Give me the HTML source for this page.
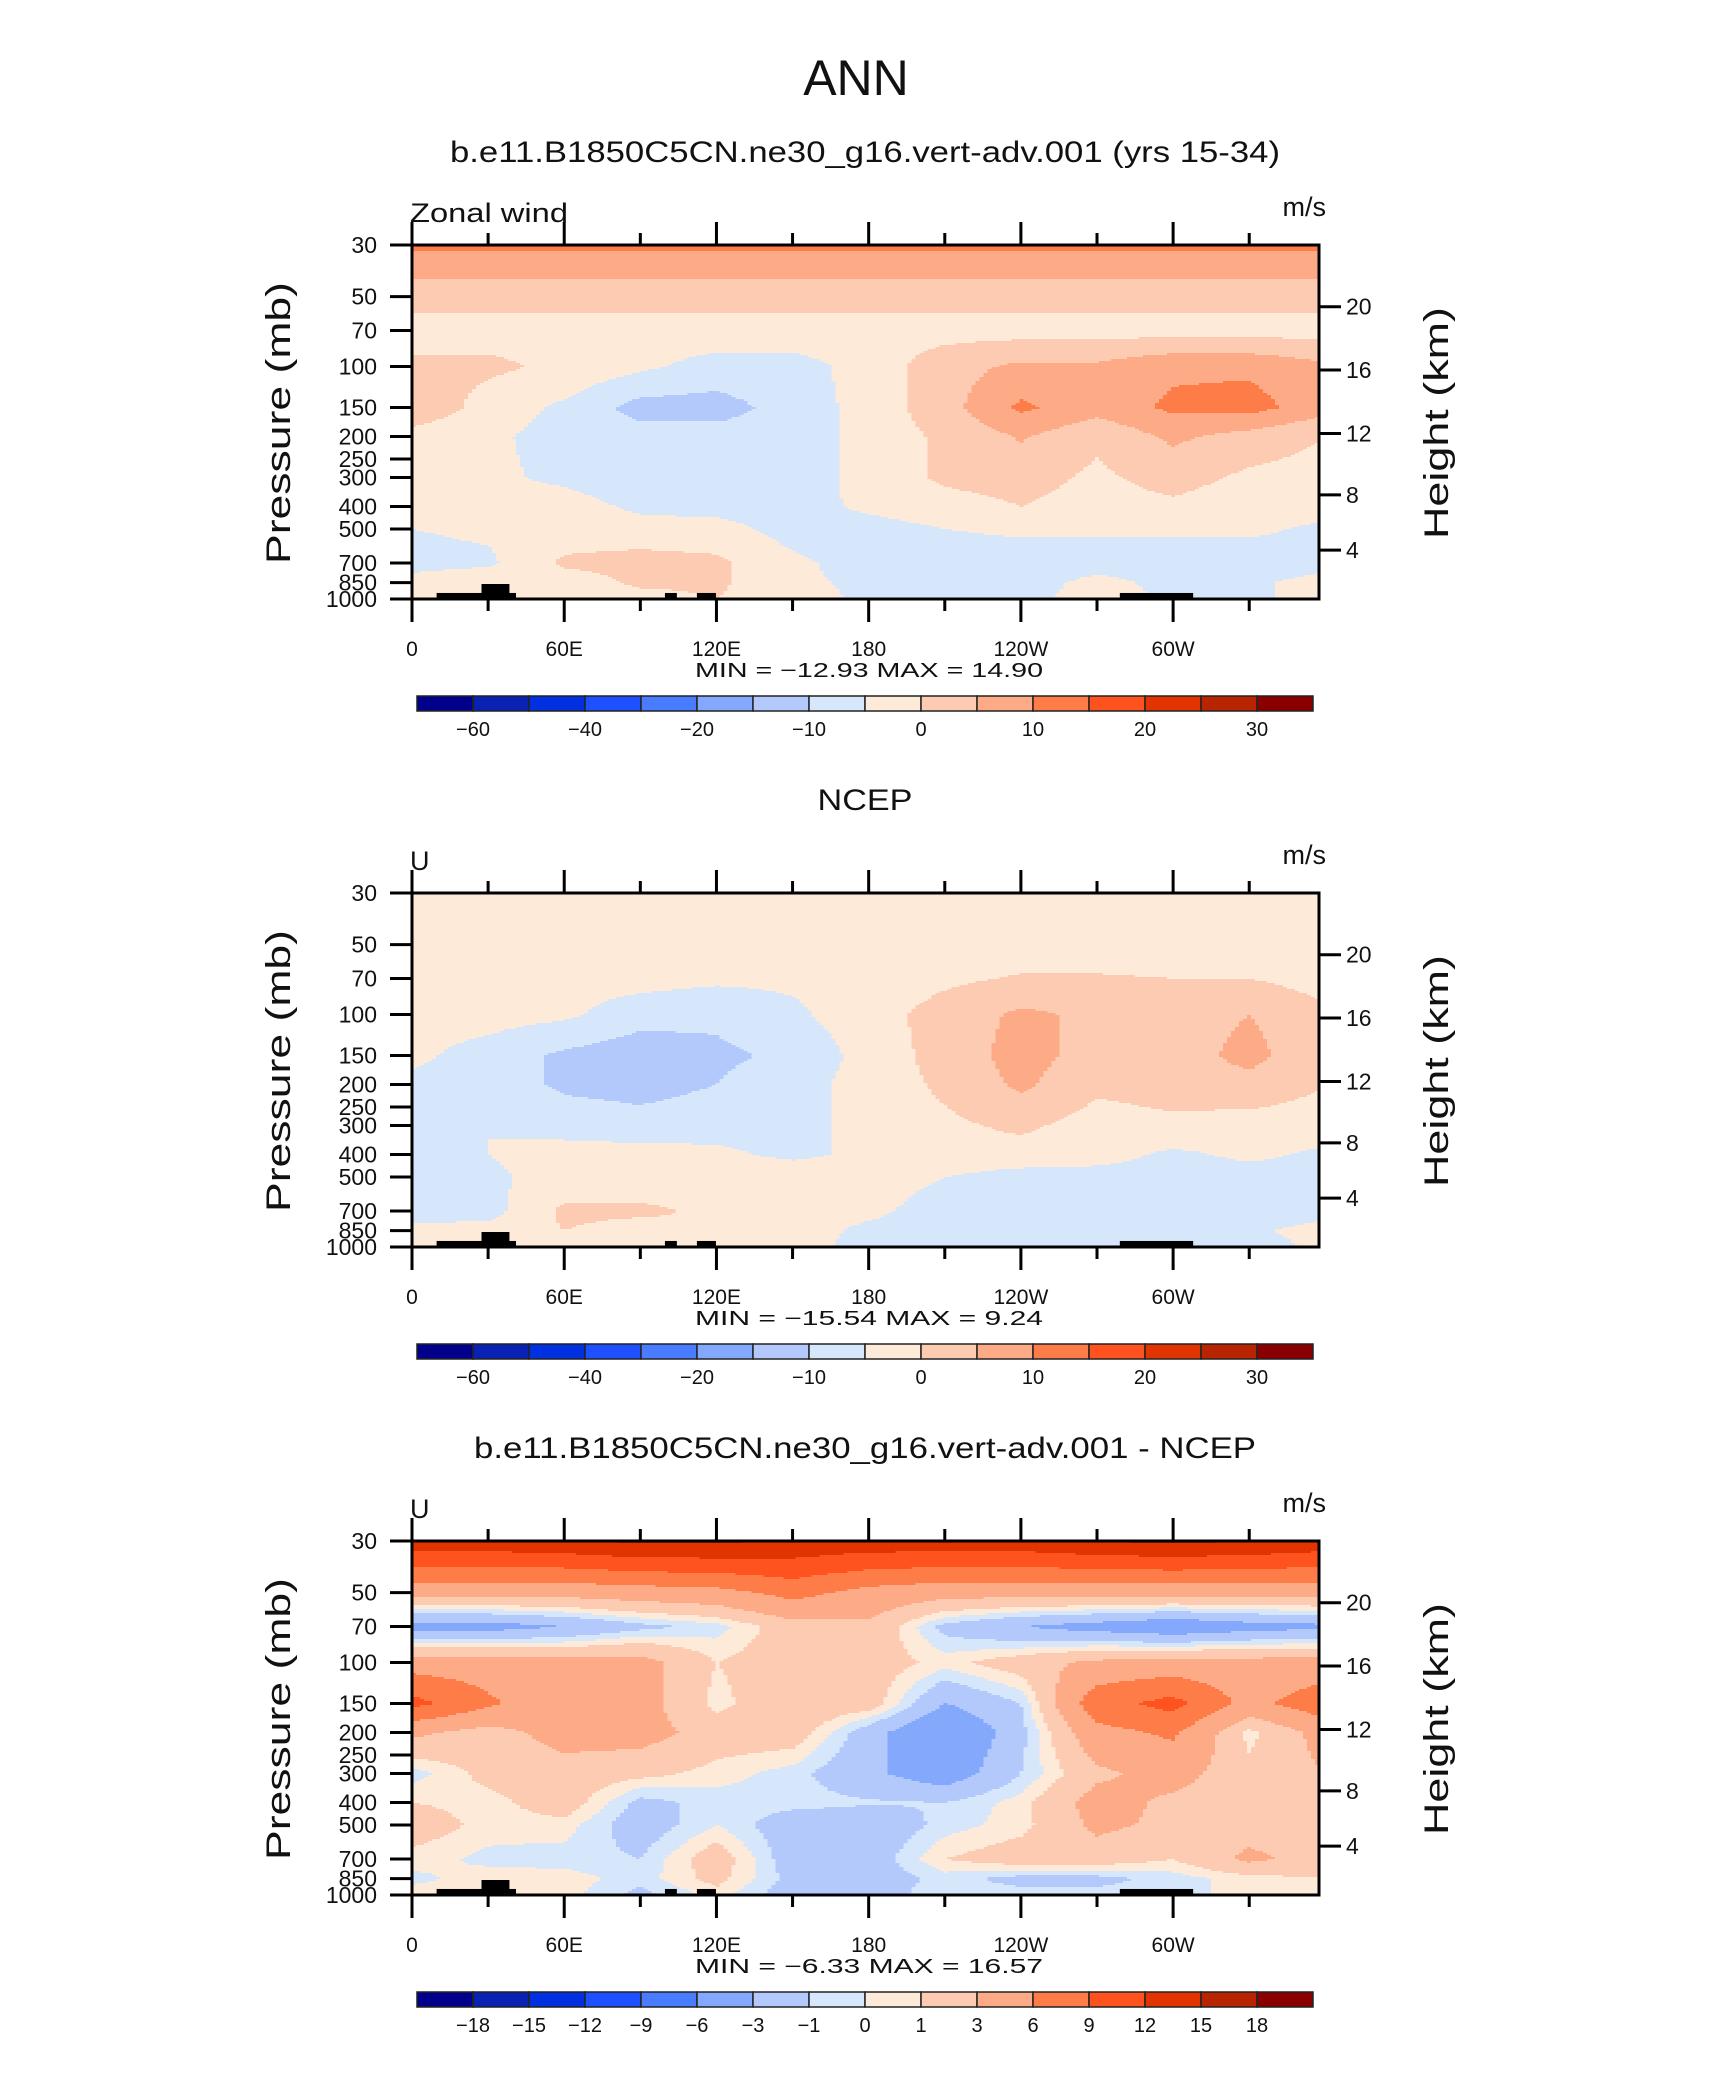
<!DOCTYPE html>
<html><head><meta charset="utf-8"><style>
html,body{margin:0;padding:0;background:#fff;}
svg{display:block;}
text{font-family:"Liberation Sans",sans-serif;fill:#111;}
</style></head>
<body>
<svg id="fig" width="1710" height="2074" viewBox="0 0 1710 2074" xmlns="http://www.w3.org/2000/svg">
<rect x="0" y="0" width="1710" height="2074" fill="#fff"/>
<text x="856" y="95" font-size="50" text-anchor="middle" style="font-weight:300">ANN</text>
<g id="root"></g>
</svg>
<script>
// ---------- data ----------
const lons = [0,30,60,90,120,150,180,210,240,270,300,330,360];
const levs = [30,50,70,100,150,200,300,400,500,700,850,1000];
const levels12 = [-60,-50,-40,-30,-20,-15,-10,-5,0,5,10,15,20,25,30];
const levels3 = [-18,-15,-12,-9,-6,-3,-1,0,1,3,6,9,12,15,18];
const cbLabels12 = ['−60','−40','−20','−10','0','10','20','30'];
const cbLabelIdx12 = [0,2,4,6,8,10,12,14];
const cbLabels3 = ['−18','−15','−12','−9','−6','−3','−1','0','1','3','6','9','12','15','18'];
const cbLabelIdx3 = [0,1,2,3,4,5,6,7,8,9,10,11,12,13,14];
const xTickLabels = ['0','60E','120E','180','120W','60W'];
const xTickLons = [0,60,120,180,240,300];
const yTickLabels = ['30','50','70','100','150','200','250','300','400','500','700','850','1000'];
const yTickP = [30,50,70,100,150,200,250,300,400,500,700,850,1000];
const kmLabels = ['4','8','12','16','20'];
const kmP = [616.4,356.5,194.0,103.5,55.29];
const topoLon0 = [9.7,27.4,99.7,112.3,279];
const topoLon1 = [41,38.4,104.4,119.8,307.9];
const topoP = [942,862,942,942,942];

const uModel = [
 [16,16,16,16,16,16,16,16,16,16,16,16,16],
 [7,7,7,7,7,7,7,7,7,7,7,7,7],
 [3,3,3,3,3,3,3,3,3,3,3,3,3],
 [6,6,4,1,-2,-2,2,8,11,11,14,14,11],
 [9,3,-1,-7,-7,-3,2,8,16,12,16,17,12],
 [3,1,-2,-3,-3,-3,2,6,10.5,6,11,8,5],
 [2,1,-1,-3,-3,-3,2,6,7,4,7,4,3],
 [2,2,2,-1,-2,-2,1,3,5,3,4,2,2],
 [0,1,2,2,2,-2,-2,0,1,1,1,1,-1],
 [-2,-1,6,7,6,1,-2,-3,-3,-3,-3,-3,-2],
 [2,4,2,6,6,1,-1,-3,-3,2,-2,-1,2],
 [2,5,2,3,5,2,-1,-2,-2,3,-1,-1,2]
];
const uNcep = [
 [2,2,2,2,2,2,2,2,2,2,2,2,2],
 [2,2,2,2,2,2,2,2,2,2,2,2,2],
 [2,2,2,2,1,1,2,4,5.5,5.5,5,5,3],
 [2,2,1,-3,-4,-1,3,7,11,9,7,10,6],
 [1,-2,-6,-8,-6,-4,2,7,12,8,7,12,5],
 [-1,-2,-6,-7,-5,-2,2,6,11,6,7,8,5],
 [-2,0,-2,-3,-2,-2,2,4,6,3,4,3,3],
 [-1,0,2,2,1,-1,1,3,3,2,-1,1,-1],
 [-2,-1,2,2,2,3,2,0,-2,-2,-2,-2,-2],
 [-2,-2,6,6,4,2,1,-2,-3,-3,-3,-3,-2],
 [1,2,5,3,5,2,-1,-2,-2,-1,-2,-1,2],
 [3,2,1,1,1,1,-1,-2,-2,-1,-2,-2,1]
];
const uDiff = [
 [14,14,14.5,15.5,15.5,14.5,14,14,14,15,15.5,15,14],
 [4,4,4,4.5,5,7,5,4,4,4,4,4,4],
 [-4,-4,-3,-1.5,-0.5,2,2.5,-1.5,-3,-4,-5,-4,-3.5],
 [4.5,4.5,4,4,1,2,2,0.5,2,3.5,4,4,4],
 [10,6.5,4,4,0.5,2.5,2,-3,-1,8,10,5,8],
 [3.5,2,4,4,2,2,-2,-6,-1.5,5,6.5,0.5,4],
 [-0.5,1.5,2,1.5,0.5,-0.5,-2.5,-4.5,-1,2.5,4,1.5,3],
 [1,0.5,2,-1.5,-0.5,-0.5,-0.8,-1,0.5,4,2.5,1.5,2],
 [2,0.5,0.5,-2,0,-2,-2.5,-0.5,0.5,3.5,2.5,2,2],
 [0.5,-0.3,-0.5,-1,2,-2,-2,1,2,2,1,3.5,2],
 [-0.3,0.5,0.5,-0.5,1.5,-1.5,-2,-0.5,-1.5,-1.5,-0.5,0.5,1],
 [0.5,0.5,0.5,-1.5,0.5,-2,-1.5,-0.5,-0.5,-0.5,-0.5,0.5,1]
];
const palette = ['#00008a','#0a22b4','#0030e0','#1f50ff','#4a7cff','#84a8fb','#b3c9fb','#d6e7fb','#feead8','#fdcbb2','#fdab86','#fd7c48','#fe521f','#e23400','#b82300','#8a0000'];

// ---------- layout ----------
const NS = 'http://www.w3.org/2000/svg';
const root = document.getElementById('root');
const PX0 = 412, PW = 907, PH = 354, LONMAX = 357.5;
function xOfLon(l){ return PX0 + l*PW/LONMAX; }
function yOfP(p, top){ return top + PH*Math.log(p/30)/Math.log(1000/30); }
function pOfY(y, top){ return 30*Math.exp((y-top)/PH*Math.log(1000/30)); }
function mk(tag, attrs, parent){
  const e = document.createElementNS(NS, tag);
  for (const k in attrs) e.setAttribute(k, attrs[k]);
  (parent||root).appendChild(e);
  return e;
}
function colorIdx(v, lv, off){ let i=0; while(i<lv.length && v>=lv[i]) i++; return Math.max(0,Math.min(15,i+off)); }
function sample(field, lon, p){
  let j=0; while(j<levs.length-2 && p>levs[j+1]) j++;
  let t=(Math.log(p)-Math.log(levs[j]))/(Math.log(levs[j+1])-Math.log(levs[j]));
  t=Math.max(0,Math.min(1,t));
  let i=Math.min(11,Math.floor(lon/30)); let s=(lon-lons[i])/30;
  const a=field[j][i]*(1-s)+field[j][i+1]*s;
  const b=field[j+1][i]*(1-s)+field[j+1][i+1]*s;
  return a*(1-t)+b*t;
}

function panel(top, field, lv, off, title, titleY, titleLen, leftLabel, minmax, cbLabels, cbIdx, name){
  const g = mk('g', {});
  
  
  const t = mk('text', {x:865, y:titleY, 'font-size':30, 'text-anchor':'middle', textLength:titleLen, lengthAdjust:'spacingAndGlyphs'}, g);
  t.textContent = title;
  
  
  const fg = mk('g', {'shape-rendering':'crispEdges'}, g);
  
  
  const nx = 227, rowH = 2, colW = PW/nx;
  for (let y=top; y<top+PH; y+=rowH){
    const p = pOfY(y+rowH/2, top);
    let runStart=0, runC=-1;
    for (let i=0;i<=nx;i++){
      let c=-2;
      if (i<nx){ const lon=(i+0.5)*colW*LONMAX/PW; c=colorIdx(sample(field,lon,p),lv,off); }
      if (c!==runC){
        if (runC>=0){
          const r = mk('rect',{x:(PX0+runStart*colW).toFixed(1),y:y,width:((i-runStart)*colW+0.6).toFixed(1),height:rowH+0.5,fill:palette[runC]},fg);
          
          
        }
        runStart=i; runC=c;
      }
    }
  }
  for (let k=0;k<topoLon0.length;k++){
    const y0 = yOfP(topoP[k], top);
    const r = mk('rect',{x:xOfLon(topoLon0[k]),y:y0,width:xOfLon(topoLon1[k])-xOfLon(topoLon0[k]),height:top+PH-y0,fill:'#000'},g);
    
    
  }
  const fr = mk('rect',{x:PX0,y:top,width:PW,height:PH,fill:'none',stroke:'#000','stroke-width':3},g);
  
  
  for (let l=0;l<=330;l+=30){
    const x=xOfLon(l), len=(l%60===0)?23:12;
    mk('line',{x1:x,y1:top+PH,x2:x,y2:top+PH+len,stroke:'#000','stroke-width':3},g);
    mk('line',{x1:x,y1:top,x2:x,y2:top-len,stroke:'#000','stroke-width':3},g);
  }
  for (let k=0;k<xTickLabels.length;k++){
    const tx = mk('text',{x:xOfLon(xTickLons[k]),y:top+PH+57,'font-size':21,'text-anchor':'middle'},g);
    tx.textContent = xTickLabels[k];
    
    
  }
  for (let k=0;k<yTickP.length;k++){
    const y=yOfP(yTickP[k],top);
    mk('line',{x1:PX0-22,y1:y,x2:PX0,y2:y,stroke:'#000','stroke-width':3},g);
    const ty = mk('text',{x:377,y:y+8,'font-size':23,'text-anchor':'end'},g);
    ty.textContent = yTickLabels[k];
    
    
  }
  for (let k=0;k<kmP.length;k++){
    const y=yOfP(kmP[k],top);
    mk('line',{x1:PX0+PW,y1:y,x2:PX0+PW+22,y2:y,stroke:'#000','stroke-width':3},g);
    const ty = mk('text',{x:1346,y:y+8,'font-size':23},g);
    ty.textContent = kmLabels[k];
    
    
  }
  const yl = mk('text',{x:0,y:0,'font-size':34,'text-anchor':'middle',transform:`translate(290,${top+178}) rotate(-90)`,textLength:282,lengthAdjust:'spacingAndGlyphs','style':'font-weight:300'},g);
  yl.textContent = 'Pressure  (mb)';
  
  
  const yr = mk('text',{x:0,y:0,'font-size':34,'text-anchor':'middle',transform:`translate(1448,${top+178}) rotate(-90)`,textLength:232,lengthAdjust:'spacingAndGlyphs','style':'font-weight:300'},g);
  yr.textContent = 'Height  (km)';
  
  
  const ll = mk('text',{x:410,y:top-23,'font-size':27},g);
  if (leftLabel.length>1){ ll.setAttribute('textLength',158); ll.setAttribute('lengthAdjust','spacingAndGlyphs'); }
  ll.textContent = leftLabel;
  
  
  const ul = mk('text',{x:1326,y:top-29,'font-size':27,'text-anchor':'end'},g);
  ul.textContent = 'm/s';
  
  
  const mm = mk('text',{x:869,y:top+PH+78,'font-size':20,'text-anchor':'middle',textLength:348,lengthAdjust:'spacingAndGlyphs'},g);
  mm.textContent = minmax;
  
  
  const cbY = top+451, cbX=417, cbW=56;
  for (let k=0;k<16;k++){
    const r = mk('rect',{x:cbX+k*cbW,y:cbY,width:cbW,height:15,fill:palette[k],stroke:'#222','stroke-width':1.5},g);
    
    
  }
  for (let k=0;k<cbLabels.length;k++){
    const tx = mk('text',{x:cbX+(cbIdx[k]+1)*cbW,y:cbY+40,'font-size':20,'text-anchor':'middle'},g);
    tx.textContent = cbLabels[k];
    
    
  }
}
panel(245, uModel, levels12, -1, 'b.e11.B1850C5CN.ne30_g16.vert-adv.001 (yrs 15-34)', 162, 830, 'Zonal wind', 'MIN =  −12.93   MAX =   14.90', cbLabels12, cbLabelIdx12, 'model-panel');
panel(893, uNcep, levels12, -1, 'NCEP', 810, 95, 'U', 'MIN =  −15.54   MAX =    9.24', cbLabels12, cbLabelIdx12, 'ncep-panel');
panel(1541, uDiff, levels3, 0, 'b.e11.B1850C5CN.ne30_g16.vert-adv.001 - NCEP', 1458, 782, 'U', 'MIN =   −6.33   MAX =   16.57', cbLabels3, cbLabelIdx3, 'difference-panel');
</script>
</body></html>
